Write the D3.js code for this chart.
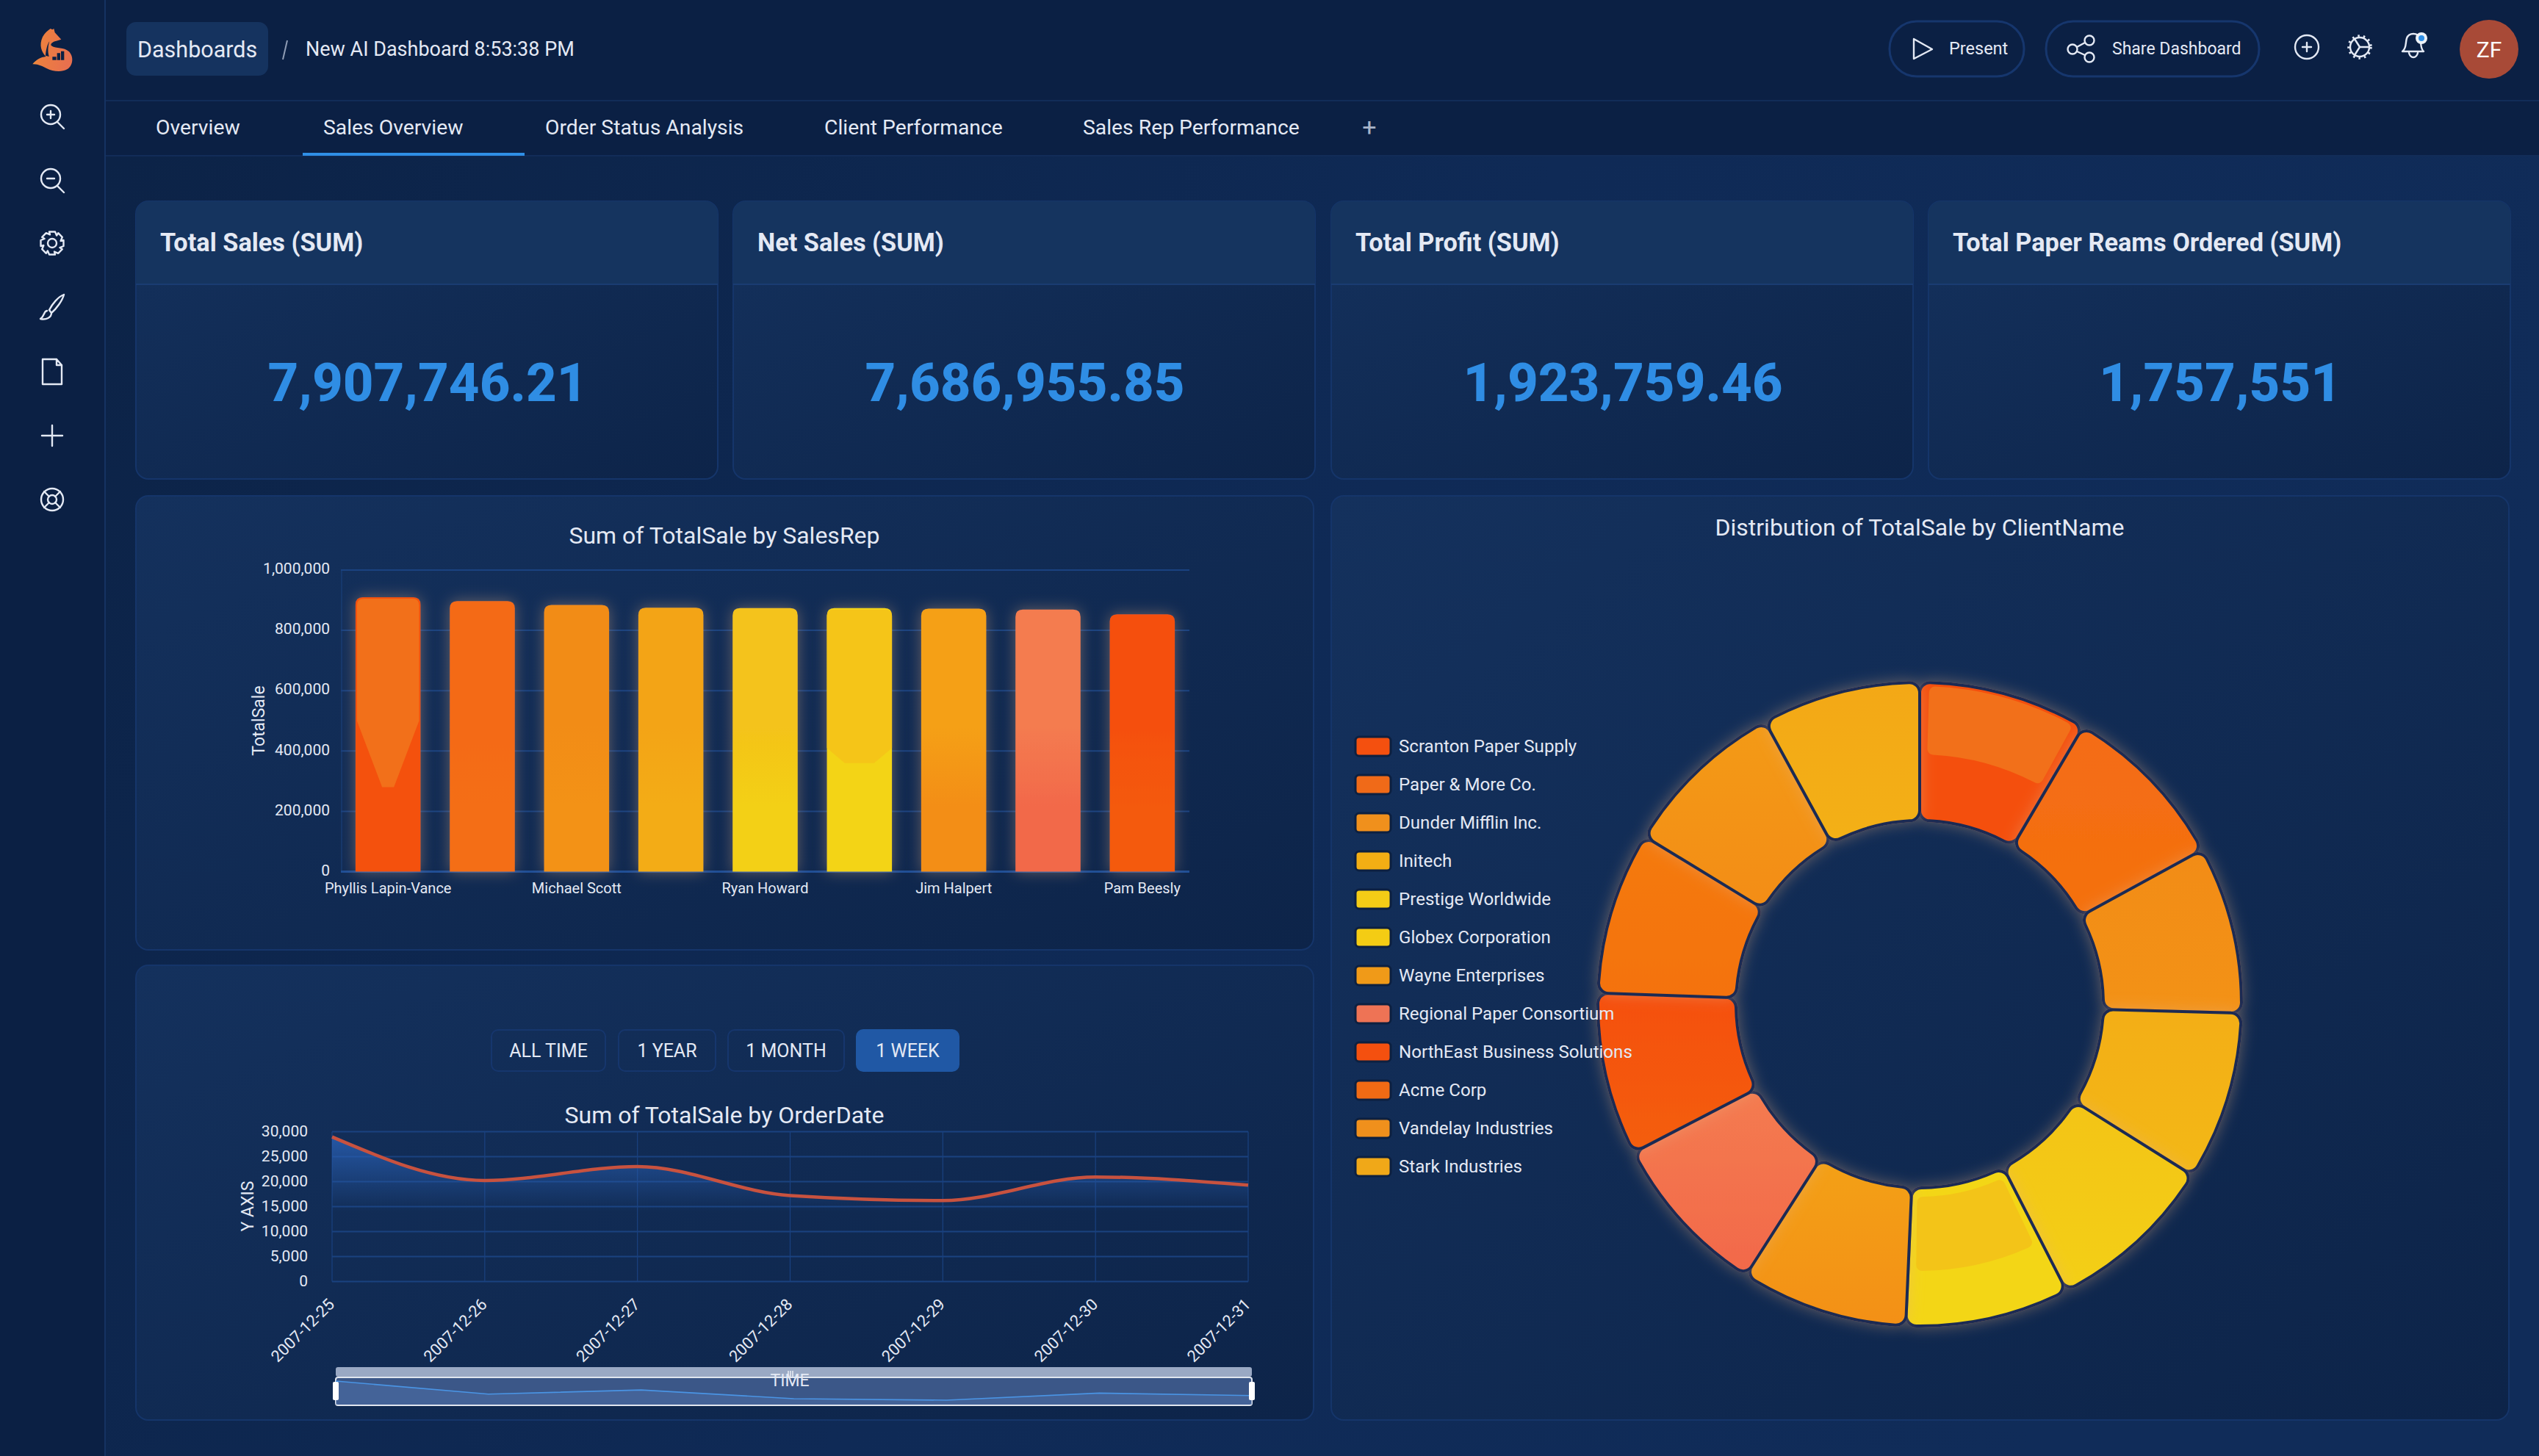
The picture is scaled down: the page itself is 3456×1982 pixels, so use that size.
<!DOCTYPE html>
<html>
<head>
<meta charset="utf-8">
<title>New AI Dashboard</title>
<script src="https://cdn.jsdelivr.net/npm/d3@7"></script>
<style>
  html, body { margin: 0; padding: 0; background: #0b2044; overflow: hidden; }
  svg { display: block; }
  text { font-family: Roboto, "Noto Sans", sans-serif; fill: #e4e9f4; }
</style>
</head>
<body>
<svg id="dash" width="3456" height="1982" viewBox="0 0 3456 1982"></svg>
<script>
// Values
const tabs = ['Overview', 'Sales Overview', 'Order Status Analysis', 'Client Performance', 'Sales Rep Performance'];
const kpiTitles = ['Total Sales (SUM)', 'Net Sales (SUM)', 'Total Profit (SUM)', 'Total Paper Reams Ordered (SUM)'];
const kpiValues = ['7,907,746.21', '7,686,955.85', '1,923,759.46', '1,757,551'];

// Only every other rep name is printed in the picture
const salesReps = ['Phyllis Lapin-Vance', 'rep-2', 'Michael Scott', 'rep-4', 'Ryan Howard', 'rep-6', 'Jim Halpert', 'rep-8', 'Pam Beesly'];
const repSales = [910000, 897000, 884000, 875000, 874000, 874000, 872000, 869000, 853000];
const repTicks = [0, 200000, 400000, 600000, 800000, 1000000];

const clients = ['Scranton Paper Supply', 'Paper & More Co.', 'Dunder Mifflin Inc.', 'Initech', 'Prestige Worldwide', 'Globex Corporation', 'Wayne Enterprises', 'Regional Paper Consortium', 'NorthEast Business Solutions', 'Acme Corp', 'Vandelay Industries', 'Stark Industries'];
const clientSales = [670000, 677000, 665000, 670000, 676000, 650000, 663000, 657000, 646000, 646000, 657000, 630000];

const orderDates = ['2007-12-25', '2007-12-26', '2007-12-27', '2007-12-28', '2007-12-29', '2007-12-30', '2007-12-31'];
const dateSales = [28950, 20230, 23020, 17210, 16220, 20930, 19300];
const dateTicks = [0, 5000, 10000, 15000, 20000, 25000, 30000];
const rangeButtons = ['ALL TIME', '1 YEAR', '1 MONTH', '1 WEEK'];

// top / bottom colour of each bar and slice
const repColors = [['#f4510f', '#f4510f'], ['#f46a15', '#f46e12'], ['#f28c14', '#f39214'], ['#f3a414', '#f3ac14'], ['#f4c31a', '#f3d015'], ['#f3d414', '#f3d414'], ['#f5a016', '#f38e13'], ['#f47b50', '#f2694a'], ['#f5500f', '#f45a10']];
const clientColors = [['#f44f11', '#f44f11'], ['#f46c14', '#f4700f'], ['#f28c14', '#f39214'], ['#f3ae14', '#f3b818'], ['#f3c418', '#f3cf15'], ['#f3d614', '#f3d614'], ['#f3a014', '#f39014'], ['#f47b50', '#f2694a'], ['#f54f10', '#f45e10'], ['#f47a10', '#f4720f'], ['#f39a15', '#f38d15'], ['#f3a814', '#f3b016']];
const legendColors = ['#f4500f', '#f06a18', '#f0901c', '#f3ae14', '#f4cc16', '#f4cc14', '#f09a18', '#ee7355', '#f4500f', '#f06a14', '#f0901c', '#f0a818'];

const svg = d3.select('#dash');
const defs = svg.append('defs');

function vGradient(id, stops, attrs) {
  const g = defs.append('linearGradient').attr('id', id)
    .attr('x1', 0).attr('y1', 0).attr('x2', 0).attr('y2', 1);
  if (attrs) Object.entries(attrs).forEach(([k, v]) => g.attr(k, v));
  stops.forEach(([o, c, a]) => {
    g.append('stop').attr('offset', o).attr('stop-color', c).attr('stop-opacity', a === undefined ? 1 : a);
  });
}

function txt(parent, x, y, s, size, opts = {}) {
  return parent.append('text')
    .attr('x', x).attr('y', y)
    .attr('font-size', size)
    .attr('font-weight', opts.weight || 400)
    .attr('text-anchor', opts.anchor || 'start')
    .attr('dominant-baseline', 'central')
    .style('fill', opts.fill || '#e4e9f4')
    .text(s);
}

// Backgrounds
defs.append('linearGradient').attr('id', 'pageBg')
  .attr('x1', 0).attr('y1', 0).attr('x2', 1).attr('y2', 0.3)
  .call((g) => {
    g.append('stop').attr('offset', 0).attr('stop-color', '#0c2347');
    g.append('stop').attr('offset', 0.55).attr('stop-color', '#0f2a56');
    g.append('stop').attr('offset', 1).attr('stop-color', '#102c59');
  });
defs.append('linearGradient').attr('id', 'cardBg')
  .attr('x1', 0).attr('y1', 0).attr('x2', 1).attr('y2', 1)
  .call((g) => {
    g.append('stop').attr('offset', 0).attr('stop-color', '#14315d');
    g.append('stop').attr('offset', 1).attr('stop-color', '#0d2449');
  });
const glow = defs.append('filter').attr('id', 'glow')
  .attr('x', '-30%').attr('y', '-30%').attr('width', '160%').attr('height', '160%');
glow.append('feDropShadow').attr('dx', 0).attr('dy', 0).attr('stdDeviation', 10)
  .attr('flood-color', '#e8b080').attr('flood-opacity', 0.4);

svg.append('rect').attr('width', 3456).attr('height', 1982).attr('fill', '#0b2044');
svg.append('rect').attr('x', 144).attr('y', 212).attr('width', 3312).attr('height', 1770).attr('fill', 'url(#pageBg)');
svg.append('line').attr('x1', 143).attr('x2', 143).attr('y1', 0).attr('y2', 1982).attr('stroke', '#153262').attr('stroke-width', 2);
svg.append('line').attr('x1', 144).attr('x2', 3456).attr('y1', 137).attr('y2', 137).attr('stroke', '#122c58').attr('stroke-width', 2);
svg.append('line').attr('x1', 144).attr('x2', 3456).attr('y1', 212).attr('y2', 212).attr('stroke', '#122c58').attr('stroke-width', 2);

// Sidebar icons
const side = svg.append('g').attr('fill', 'none').attr('stroke', '#e4e9f4').attr('stroke-width', 2.4).attr('stroke-linecap', 'round').attr('stroke-linejoin', 'round');
function magnifier(cy, plus) {
  const g = side.append('g').attr('transform', `translate(71,${cy})`);
  g.append('circle').attr('cx', -2).attr('cy', -2).attr('r', 13);
  g.append('path').attr('d', 'M7 8 L16 17');
  g.append('path').attr('d', plus ? 'M-7 -2H3M-2 -7V3' : 'M-7 -2H3');
}
magnifier(158, true);
magnifier(245, false);
const gear = side.append('g').attr('transform', 'translate(71,331)');
gear.append('circle').attr('r', 6);
gear.append('path').attr('d', d3.range(8).map((i) => {
  const a0 = (i * Math.PI) / 4 - 0.25, a1 = a0 + 0.5, a2 = a0 + 0.78;
  const p = (r, a) => `${(r * Math.cos(a)).toFixed(1)} ${(r * Math.sin(a)).toFixed(1)}`;
  return `${i ? 'L' : 'M'}${p(16, a0)} L${p(16, a1)} L${p(12, a2)}`;
}).join(' ') + ' Z');
side.append('path').attr('transform', 'translate(71,418)').attr('d', 'M-4 4 C0 -4 8 -14 16 -17 C14 -9 6 2 -1 8 Z M-7 5 C-12 6 -10 12 -16 16 C-8 18 -1 14 -1 8');
side.append('path').attr('transform', 'translate(71,506)').attr('d', 'M-13 -17 H6 L13 -9 V17 H-13 Z M6 -17 V-9 H13');
side.append('path').attr('transform', 'translate(71,593)').attr('d', 'M-14 0 H14 M0 -14 V14');
const buoy = side.append('g').attr('transform', 'translate(71,680)');
buoy.append('circle').attr('r', 15);
buoy.append('circle').attr('r', 6);
buoy.append('path').attr('d', 'M-11 -11 L-4 -4 M11 -11 L4 -4 M-11 11 L-4 4 M11 11 L4 4');

// Logo, drawn in 270px box
defs.append('linearGradient').attr('id', 'logoFill')
  .attr('x1', 0).attr('y1', 0).attr('x2', 1).attr('y2', 0.2)
  .call((g) => {
    g.append('stop').attr('offset', 0).attr('stop-color', '#f0a03a');
    g.append('stop').attr('offset', 0.3).attr('stop-color', '#ec7f40');
    g.append('stop').attr('offset', 1).attr('stop-color', '#e8704e');
  });
const logo = svg.append('g').attr('transform', 'translate(30,25) scale(0.3333)');
logo.append('path').attr('fill', 'url(#logoFill)')
  .attr('d', 'M116 42 L124 46 L130 42 L134 58 L160 86 L140 92 C122 96 114 106 120 112 C140 126 170 116 192 136 C214 160 206 196 184 208 C160 222 124 216 100 204 C84 196 66 186 43 187 C56 170 76 158 98 156 C80 140 68 110 84 76 C92 60 104 50 116 42 Z');
logo.append('path').attr('fill', '#0b2044')
  .attr('d', 'M112 94 C102 108 98 130 96 152 L110 156 C104 136 106 112 112 94 Z M124 157 H140 V170 H124 Z M143 142 H156 V170 H143 Z M159 134 H172 V170 H159 Z');

// Breadcrumb
svg.append('rect').attr('x', 172).attr('y', 30).attr('width', 193).attr('height', 73).attr('rx', 13).attr('fill', '#15335f');
txt(svg, 187, 67, 'Dashboards', 30.5);
svg.append('line').attr('x1', 391).attr('y1', 55).attr('x2', 385).attr('y2', 81).attr('stroke', '#8f9cb5').attr('stroke-width', 2);
txt(svg, 416, 67, 'New AI Dashboard 8:53:38 PM', 27);

// Tabs
const tabX = [212, 440, 742, 1122, 1474];
tabs.forEach((t, i) => txt(svg, tabX[i], 173, t, 28.3));
txt(svg, 1864, 173, '+', 34, { anchor: 'middle', fill: '#a8b4c9' });
svg.append('rect').attr('x', 412).attr('y', 208).attr('width', 302).attr('height', 4).attr('fill', '#2f8fe6');

// Header right side
const right = svg.append('g').attr('fill', 'none').attr('stroke', '#e4e9f4').attr('stroke-width', 2.4).attr('stroke-linecap', 'round').attr('stroke-linejoin', 'round');
right.append('rect').attr('x', 2572).attr('y', 29).attr('width', 183).attr('height', 75).attr('rx', 37).attr('stroke', '#16366d').attr('stroke-width', 3);
right.append('rect').attr('x', 2785).attr('y', 29).attr('width', 290).attr('height', 75).attr('rx', 37).attr('stroke', '#16366d').attr('stroke-width', 3);
right.append('path').attr('d', 'M2605 53 L2630 67 L2605 80 Z');
txt(svg, 2653, 66, 'Present', 23.5);
right.append('circle').attr('cx', 2821).attr('cy', 67).attr('r', 6.5);
right.append('circle').attr('cx', 2844).attr('cy', 55).attr('r', 6.5);
right.append('circle').attr('cx', 2844).attr('cy', 78).attr('r', 6.5);
right.append('path').attr('d', 'M2827 64 L2838 58 M2827 70 L2838 75');
txt(svg, 2875, 66, 'Share Dashboard', 23);
right.append('circle').attr('cx', 3140).attr('cy', 64).attr('r', 16);
right.append('path').attr('d', 'M3134 64 H3146 M3140 58 V70');
right.append('circle').attr('cx', 3212).attr('cy', 64).attr('r', 13);
right.append('circle').attr('cx', 3212).attr('cy', 64).attr('r', 15).attr('stroke-dasharray', '2.5 5').attr('stroke-linecap', 'butt').attr('stroke-width', 3.5);
right.append('path').attr('d', 'M3212 64 H3225 M3212 64 L3205 53 M3212 64 L3205 75');
right.append('path').attr('d', 'M3270 70 C3276 66 3274 58 3276 52 C3279 44 3291 44 3294 52 C3296 58 3294 66 3299 70 Z M3279 72 C3281 80 3289 80 3291 72');
svg.append('circle').attr('cx', 3296).attr('cy', 52).attr('r', 8).attr('fill', '#eef2f8');
svg.append('circle').attr('cx', 3296).attr('cy', 52).attr('r', 4).attr('fill', '#2f8fe6');
svg.append('circle').attr('cx', 3388).attr('cy', 67).attr('r', 40).attr('fill', '#a84a37');
txt(svg, 3388, 67, 'ZF', 30, { anchor: 'middle', fill: '#ffffff' });

function card(x, y, w, h) {
  return svg.append('rect').attr('x', x).attr('y', y).attr('width', w).attr('height', h).attr('rx', 17)
    .attr('fill', 'url(#cardBg)').attr('stroke', '#15356a').attr('stroke-width', 2);
}

// KPI cards
const kpiX = [185, 998, 1812, 2625];
kpiTitles.forEach((t, i) => {
  const x = kpiX[i], w = 792;
  card(x, 274, w, 378);
  svg.append('path')
    .attr('d', `M${x} 386 V291 a17 17 0 0 1 17 -17 H${x + w - 17} a17 17 0 0 1 17 17 V386 Z`)
    .attr('fill', '#15345f');
  svg.append('line').attr('x1', x).attr('x2', x + w).attr('y1', 387).attr('y2', 387).attr('stroke', '#1a3c72').attr('stroke-width', 2);
  txt(svg, x + 33, 330, t, 34.3, { weight: 700 });
  txt(svg, x + w / 2 + 1, 521, kpiValues[i], 72.5, { weight: 800, anchor: 'middle', fill: '#2f8de4' });
});

card(185, 675, 1603, 618);
card(185, 1314, 1603, 619);
card(1812, 675, 1603, 1258);

// Bar chart
txt(svg, 986, 729, 'Sum of TotalSale by SalesRep', 32, { anchor: 'middle' });
const barX = d3.scaleBand().domain(salesReps).range([464, 1619]).paddingInner(0.31).paddingOuter(0.155);
const barY = d3.scaleLinear().domain([0, 1000000]).range([1186.5, 776]);

function styleAxis(g, size) {
  g.select('.domain').remove();
  g.selectAll('.tick line').remove();
  g.selectAll('.tick text').attr('font-size', size).attr('font-family', null).style('fill', '#e4e9f4');
}

svg.append('line').attr('x1', 465).attr('x2', 465).attr('y1', 776).attr('y2', 1186).attr('stroke', '#1a4280').attr('stroke-width', 1);
svg.append('g').selectAll('line').data(repTicks).join('line')
  .attr('x1', 464).attr('x2', 1619)
  .attr('y1', (d) => barY(d)).attr('y2', (d) => barY(d))
  .attr('stroke', (d) => (d === 0 ? '#1f4e96' : '#1a4280')).attr('stroke-width', (d) => (d === 0 ? 3 : 2));
svg.append('g').attr('transform', 'translate(449,-2)')
  .call(d3.axisLeft(barY).tickValues(repTicks).tickFormat(d3.format(',')).tickSize(0).tickPadding(0))
  .call(styleAxis, 21);
svg.append('g').attr('transform', 'translate(0,1186)')
  .call(d3.axisBottom(barX).tickFormat((d, i) => (i % 2 ? '' : d)).tickSize(0).tickPadding(16))
  .call(styleAxis, 20);
txt(svg, 0, 0, 'TotalSale', 23, { anchor: 'middle' }).attr('transform', 'translate(352,981) rotate(-90)');

repColors.forEach((c, i) => vGradient(`bar${i}`, [[0, c[0]], [0.45, c[0]], [0.75, c[1]], [1, c[1]]]));
svg.append('g').selectAll('path').data(salesReps).join('path')
  .attr('filter', 'url(#glow)')
  .attr('fill', (d, i) => `url(#bar${i})`)
  .attr('d', (d, i) => {
    const x = barX(d), w = barX.bandwidth(), top = barY(repSales[i]), r = 10;
    return `M${x} ${barY(0)} V${top + r} Q${x} ${top} ${x + r} ${top} H${x + w - r} Q${x + w} ${top} ${x + w} ${top + r} V${barY(0)} Z`;
  });

// Banding patches inside the first and sixth bar
const firstBar = salesReps[0], sixthBar = salesReps[5];
const patch = (rep, value, fullTo, tipTo, inset, tip, color) => {
  const x = barX(rep), w = barX.bandwidth(), top = barY(value) + 2, r = 9;
  svg.append('path').attr('fill', color).attr('d', [
    `M${x + inset} ${barY(fullTo)}`, `V${top + r}`, `Q${x + inset} ${top} ${x + inset + r} ${top}`,
    `H${x + w - inset - r}`, `Q${x + w - inset} ${top} ${x + w - inset} ${top + r}`, `V${barY(fullTo)}`,
    `L${x + w / 2 + tip} ${barY(tipTo)}`, `H${x + w / 2 - tip}`, 'Z',
  ].join(' '));
};
patch(firstBar, repSales[0], 500000, 280000, 2, 8, '#f2701a');
patch(sixthBar, repSales[5], 410000, 360000, 0, 20, '#f5c518');

// Donut
txt(svg, 2613, 718, 'Distribution of TotalSale by ClientName', 32, { anchor: 'middle' });
const pie = d3.pie().sort(null).value((d) => d).padAngle(0)(clientSales);
const arc = d3.arc().innerRadius(250).outerRadius(438).cornerRadius(14);
clientColors.forEach((c, i) => vGradient(`slice${i}`, [[0, c[0]], [1, c[1]]]));
const donut = svg.append('g').attr('transform', 'translate(2613,1367)');
donut.selectAll('path.slice').data(pie).join('path')
  .attr('class', 'slice')
  .attr('d', arc)
  .attr('fill', (d, i) => `url(#slice${i})`)
  .attr('stroke', '#1a2c52').attr('stroke-width', 4)
  .attr('filter', 'url(#glow)');
// Banding patches inside the first and sixth slice
const slicePatch = (d, inner, outer, color) => {
  donut.append('path').attr('fill', color).attr('d', d3.arc().innerRadius(inner).outerRadius(outer).cornerRadius(8)({
    startAngle: d.startAngle + 0.03, endAngle: d.endAngle - 0.03,
  }));
};
slicePatch(pie[0], 340, 433, '#f2701a');
slicePatch(pie[5], 262, 363, '#f3c418');

// Legend
const legendY = d3.scalePoint().domain(clients).range([1016, 1588]);
const legend = svg.append('g').selectAll('g').data(clients).join('g')
  .attr('transform', (d) => `translate(1845,${legendY(d)})`);
legend.append('rect').attr('y', -13).attr('width', 48).attr('height', 26).attr('rx', 5)
  .attr('fill', (d, i) => legendColors[i])
  .attr('stroke', '#0d2040').attr('stroke-width', 3);
legend.append('text').attr('x', 59).attr('font-size', 24.1).attr('dominant-baseline', 'central').text((d) => d);

// Range buttons
const btnX = [669, 842, 991, 1166];
const btnW = [155, 132, 158, 139];
rangeButtons.forEach((b, i) => {
  svg.append('rect').attr('x', btnX[i]).attr('y', 1402).attr('width', btnW[i]).attr('height', 56).attr('rx', 9)
    .attr('fill', i === 3 ? '#2058a5' : 'none').attr('stroke', i === 3 ? '#2058a5' : '#16366d').attr('stroke-width', 2);
  txt(svg, btnX[i] + btnW[i] / 2, 1430, b, 25, { anchor: 'middle' });
});

// Line chart
txt(svg, 986, 1518, 'Sum of TotalSale by OrderDate', 32, { anchor: 'middle' });
const lineX = d3.scalePoint().domain(orderDates).range([452, 1699]);
const lineY = d3.scaleLinear().domain([0, 30000]).range([1744.5, 1540.5]);

svg.append('g').selectAll('line').data(dateTicks).join('line')
  .attr('x1', 452).attr('x2', 1699)
  .attr('y1', (d) => lineY(d)).attr('y2', (d) => lineY(d))
  .attr('stroke', '#1a4280').attr('stroke-width', 2);
svg.append('g').selectAll('line').data(orderDates).join('line')
  .attr('y1', 1540.5).attr('y2', 1744.5)
  .attr('x1', (d) => lineX(d)).attr('x2', (d) => lineX(d))
  .attr('stroke', '#1a4280').attr('stroke-width', 1.2);

vGradient('lineArea', [[0, '#2a62b8', 0.8], [1, '#2a62b8', 0]], {
  gradientUnits: 'userSpaceOnUse', x1: 0, x2: 0, y1: lineY(29000), y2: lineY(14000),
});
const lineData = orderDates.map((d, i) => [d, dateSales[i]]);
svg.append('path').datum(lineData).attr('fill', 'url(#lineArea)')
  .attr('d', d3.area().x((d) => lineX(d[0])).y0(lineY(0)).y1((d) => lineY(d[1])).curve(d3.curveMonotoneX));
svg.append('path').datum(lineData).attr('fill', 'none').attr('stroke', '#c8523f').attr('stroke-width', 4.5)
  .attr('d', d3.line().x((d) => lineX(d[0])).y((d) => lineY(d[1])).curve(d3.curveMonotoneX));

svg.append('g').attr('transform', 'translate(419,-1)')
  .call(d3.axisLeft(lineY).tickValues(dateTicks).tickFormat(d3.format(',')).tickSize(0).tickPadding(0))
  .call(styleAxis, 21);
txt(svg, 0, 0, 'Y AXIS', 23, { anchor: 'middle' }).attr('transform', 'translate(337,1642) rotate(-90)');
svg.append('g').attr('transform', 'translate(0,1745)')
  .call(d3.axisBottom(lineX).tickSize(0).tickPadding(0))
  .call(styleAxis, 22)
  .call((g) => {
    g.selectAll('.tick text')
      .attr('text-anchor', 'end').attr('dy', 0).attr('dx', 0)
      .attr('transform', 'translate(4,32) rotate(-45)');
  });

// Data zoom slider
const miniX = d3.scalePoint().domain(orderDates).range([457, 1704]);
const miniY = d3.scaleLinear().domain(d3.extent(dateSales)).range([1906, 1880]);
svg.append('rect').attr('x', 457).attr('y', 1861).attr('width', 1247).attr('height', 13).attr('rx', 3).attr('fill', '#9aa9c4');
svg.append('rect').attr('x', 457).attr('y', 1875).attr('width', 1247).attr('height', 38).attr('rx', 3)
  .attr('fill', '#3b5788').attr('stroke', '#e0e5ef').attr('stroke-width', 2);
svg.append('path').datum(lineData).attr('fill', '#4d6ea6').attr('opacity', 0.55)
  .attr('d', d3.area().x((d) => miniX(d[0])).y0(1912).y1((d) => miniY(d[1])));
svg.append('path').datum(lineData).attr('fill', 'none').attr('stroke', '#4a94e4').attr('stroke-width', 1.6)
  .attr('d', d3.line().x((d) => miniX(d[0])).y((d) => miniY(d[1])));
[457, 1704].forEach((x) => {
  svg.append('rect').attr('x', x - 4).attr('y', 1881).attr('width', 8).attr('height', 25).attr('rx', 2).attr('fill', '#ffffff');
});
svg.append('path').attr('d', 'M1073 1866 V1874 M1076 1866 V1874 M1079 1866 V1874').attr('stroke', '#ffffff').attr('stroke-width', 1.2);
txt(svg, 1075, 1879, 'TIME', 23, { anchor: 'middle' });
</script>
</body>
</html>
